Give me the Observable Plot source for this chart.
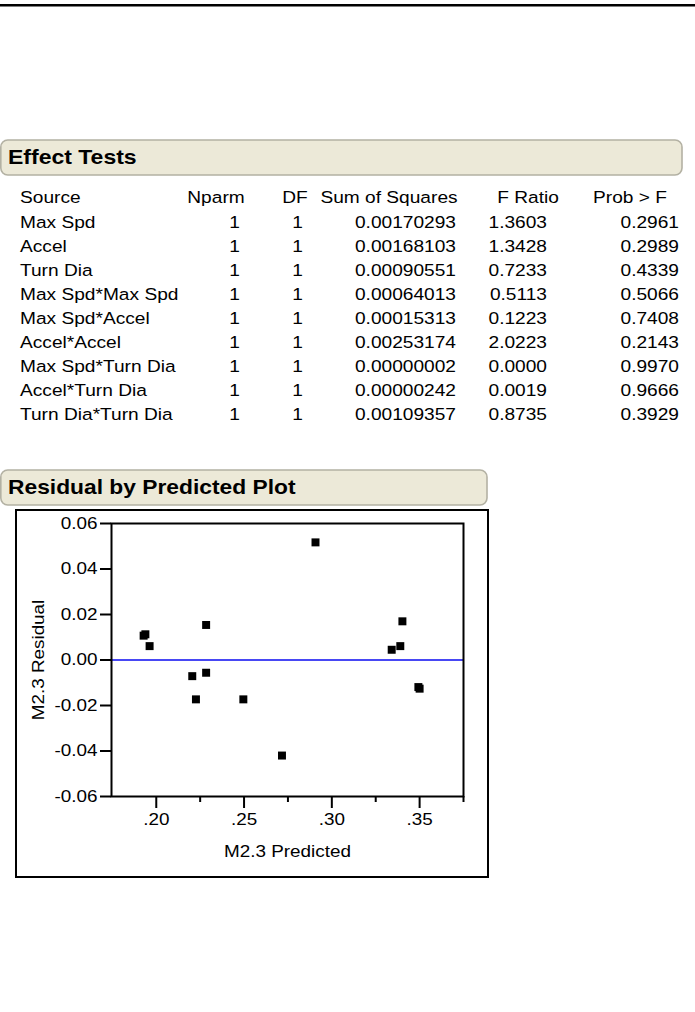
<!DOCTYPE html>
<html><head><meta charset="utf-8">
<script src="https://cdn.jsdelivr.net/npm/d3@7"></script>
<script src="https://cdn.jsdelivr.net/npm/@observablehq/plot@0.6"></script>
<style>
html,body{margin:0;padding:0;background:#fff;}
body{width:695px;height:1012px;position:relative;overflow:hidden;font-family:"Liberation Sans",Arial,sans-serif;}
#page{position:absolute;left:0;top:0;}
#plotbox{position:absolute;left:15px;top:509px;width:474px;height:369px;box-sizing:border-box;border:2px solid #000;}
#plot{position:absolute;left:15px;top:509px;}
</style></head><body>
<svg id="page" width="695" height="1012"></svg>
<div id="plotbox"></div>
<div id="plot"></div>
<script>
// ---- data ----
const tableTitle = "Effect Tests";
const plotTitle = "Residual by Predicted Plot";
const columnHeaders = ["Source", "Nparm", "DF", "Sum of Squares", "F Ratio", "Prob > F"];
const sources = ["Max Spd", "Accel", "Turn Dia", "Max Spd*Max Spd", "Max Spd*Accel", "Accel*Accel", "Max Spd*Turn Dia", "Accel*Turn Dia", "Turn Dia*Turn Dia"];
const nparm = [1, 1, 1, 1, 1, 1, 1, 1, 1];
const dfs = [1, 1, 1, 1, 1, 1, 1, 1, 1];
const sumSquares = [0.00170293, 0.00168103, 0.00090551, 0.00064013, 0.00015313, 0.00253174, 0.00000002, 0.00000242, 0.00109357];
const fRatio = [1.3603, 1.3428, 0.7233, 0.5113, 0.1223, 2.0223, 0.0000, 0.0019, 0.8735];
const probF = [0.2961, 0.2989, 0.4339, 0.5066, 0.7408, 0.2143, 0.9970, 0.9666, 0.3929];

const predicted = [0.2907, 0.2284, 0.1938, 0.1928, 0.1962, 0.3402, 0.3390, 0.3341, 0.2205, 0.2284, 0.2226, 0.2496, 0.2716, 0.3493, 0.3500];
const residual  = [0.0517, 0.0154, 0.0113, 0.0107, 0.0061, 0.0170, 0.0061, 0.0045, -0.0071, -0.0056, -0.0173, -0.0173, -0.0420, -0.0119, -0.0126];
const yTicks = [-0.06, -0.04, -0.02, 0.00, 0.02, 0.04, 0.06];
const xTicks = [0.20, 0.25, 0.30, 0.35];
const xMinorTicks = [0.225, 0.275, 0.325, 0.375];
const xLabel = "M2.3 Predicted";
const yLabel = "M2.3 Residual";

// ---- page (table) ----
const FONT = "Liberation Sans, Arial, sans-serif";
const SX = 1.16;
const page = d3.select("#page");
page.append("rect").attr("x", 0).attr("y", 4).attr("width", 695).attr("height", 2.5).attr("fill", "#000");

function headerBox(x0, x1, y0, y1) {
  page.append("rect").attr("x", x0).attr("y", y0).attr("width", x1 - x0).attr("height", y1 - y0)
    .attr("rx", 7).attr("ry", 7).attr("fill", "#ECE9D8").attr("stroke", "#B3B1A3").attr("stroke-width", 1.6);
}
function txt(x, y, s, anchor, size, weight, sx) {
  page.append("text").attr("transform", `translate(${x},${y}) scale(${sx},1)`)
    .attr("text-anchor", anchor).attr("font-family", FONT).attr("font-size", size)
    .attr("font-weight", weight || "normal").attr("fill", "#000").text(s);
}
headerBox(0.8, 682, 140, 175);
txt(8, 164, tableTitle, "start", 20, "bold", 1.15);
headerBox(0.8, 487, 470, 505);
txt(8, 494, plotTitle, "start", 20, "bold", 1.14);

const FS = 16.5;
const headerCols = [
  {anchor: "start", x: 20},
  {anchor: "middle", x: 216},
  {anchor: "middle", x: 295},
  {anchor: "middle", x: 389},
  {anchor: "middle", x: 528},
  {anchor: "middle", x: 630}
];
columnHeaders.forEach((h, i) => txt(headerCols[i].x, 203, h, headerCols[i].anchor, FS, "normal", SX));
const valueCols = [
  {anchor: "start", x: 20, vals: sources, fmt: d => d},
  {anchor: "end", x: 240, vals: nparm, fmt: d => String(d)},
  {anchor: "end", x: 303, vals: dfs, fmt: d => String(d)},
  {anchor: "end", x: 456, vals: sumSquares, fmt: d => d.toFixed(8)},
  {anchor: "end", x: 547, vals: fRatio, fmt: d => d.toFixed(4)},
  {anchor: "end", x: 679, vals: probF, fmt: d => d.toFixed(4)}
];
const rowStep = 24.1;
valueCols.forEach(c => c.vals.forEach((v, r) => txt(c.x, 227.5 + r * rowStep, c.fmt(v), c.anchor, FS, "normal", SX)));

// ---- plot ----
const points = predicted.map((p, i) => ({pred: p, resid: residual[i]}));
const chart = Plot.plot({
  width: 474, height: 369,
  marginLeft: 96, marginRight: 26, marginTop: 14, marginBottom: 82,
  x: {domain: [0.1745, 0.375]},
  y: {domain: [-0.06, 0.06]},
  style: {fontFamily: FONT, fontSize: "16px", color: "black", background: "transparent", overflow: "visible"},
  marks: [
    Plot.ruleY([0], {stroke: "#0a0af0", strokeWidth: 1.6}),
    Plot.dot(points, {x: "pred", y: "resid", symbol: "square", r: 4.5, fill: "black", stroke: null}),
    Plot.frame({stroke: "black", strokeWidth: 2}),
    Plot.axisY({ticks: yTicks, tickSize: 11, tickPadding: 3, tickFormat: d => d.toFixed(2), label: null, strokeWidth: 2, fontSize: 16}),
    Plot.axisX({ticks: xTicks, tickSize: 12, tickPadding: 5, tickFormat: d => d.toFixed(2).replace(/^0/, ""), label: null, strokeWidth: 2, fontSize: 16}),
    Plot.axisX({ticks: xMinorTicks, tickSize: 6, tickFormat: () => "", label: null, strokeWidth: 2}),
    Plot.text([xLabel], {frameAnchor: "bottom", dy: 55, text: d => d, textAnchor: "middle", lineAnchor: "middle", fontSize: 16}),
    Plot.text([yLabel], {frameAnchor: "left", dx: -73, rotate: -90, text: d => d, textAnchor: "middle", lineAnchor: "middle", fontSize: 16})
  ]
});
// widen glyphs horizontally (along reading direction) to match the reference's wide sans
chart.querySelectorAll("text").forEach(t => {
  let tr = t.getAttribute("transform") || "";
  const x = t.getAttribute("x");
  if (x != null && x !== "" && !isNaN(+x)) {
    tr += ` translate(${+x},0)`;
    t.removeAttribute("x");
  }
  t.setAttribute("transform", (tr + " scale(1.18,1)").trim());
});
document.getElementById("plot").appendChild(chart);
</script>
</body></html>
